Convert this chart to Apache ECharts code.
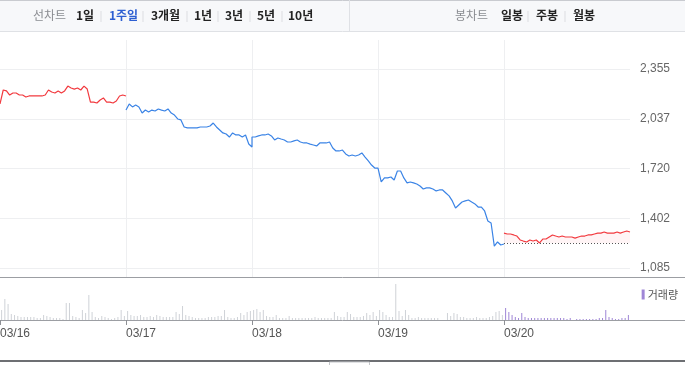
<!DOCTYPE html>
<html>
<head>
<meta charset="utf-8">
<script src="https://cdn.jsdelivr.net/npm/echarts@6/dist/echarts.min.js"></script>
<style>
  html, body { margin: 0; padding: 0; background: #fff; }
  #chart { width: 685px; height: 365px; }
</style>
</head>
<body>
<div id="chart"></div>
<script>
// 5 trading days, prices every 10 minutes (09:00 .. 15:30 -> 40 points per day)
const dates = ['03/16', '03/17', '03/18', '03/19', '03/20'];
const yTicks = [1085, 1402.5, 1720, 2037.5, 2355];
const prevClose = 1245;

const day1Price = [2132,2221,2215,2189,2202,2202,2189,2189,2176,2183, 2183,2183,2183,2183,2189,2221,2208,2202,2215,2202,
                   2215,2246,2234,2227,2234,2221,2246,2227,2144,2144, 2138,2157,2170,2144,2144,2138,2151,2183,2189,2183];
const day2Price = [2093,2132,2113,2125,2113,2074,2093,2081,2093,2087, 2100,2093,2087,2100,2074,2061,2036,2030,1985,1979,
                   1979,1979,1979,1985,1985,1985,1991,2010,1985,1966, 1947,1940,1921,1947,1934,1934,1921,1934,1876,1857];
const day3Price = [1921,1921,1928,1934,1934,1940,1928,1902,1915,1908, 1902,1889,1889,1896,1902,1889,1883,1883,1876,1870,
                   1864,1883,1883,1883,1889,1851,1832,1832,1838,1813, 1800,1806,1800,1806,1819,1793,1768,1742,1723,1723];
const day4Price = [1723,1634,1660,1660,1666,1647,1704,1704,1660,1628, 1634,1628,1621,1608,1589,1596,1596,1589,1577,1583,
                   1583,1564,1545,1513,1468,1487,1506,1513,1519,1506, 1494,1474,1474,1449,1385,1372,1225,1251,1232,1238];
const day5Price = [1308,1302,1302,1296,1289,1264,1257,1251,1264,1257, 1264,1245,1270,1270,1283,1296,1289,1283,1289,1283,
                   1283,1283,1276,1283,1289,1289,1296,1296,1302,1308, 1308,1315,1308,1308,1308,1315,1308,1315,1321,1315];

// volume per 10-minute bar (thousand shares)
const day1Vol = [10,21,16,6,5,4,3,3,3,3, 3,2,2,5,4,3,2,2,2,1, 17,17,4,3,2,10,7,25,8,3, 2,4,3,2,1,2,3,10,4];
const day2Vol = [9,5,4,4,5,3,3,4,3,5, 4,3,3,3,3,8,6,14,5,4, 3,2,2,2,2,3,3,3,4,4, 10,3,2,2,3,7,5,8,9];
const day3Vol = [10,11,8,10,4,3,3,5,2,2, 2,4,2,2,2,2,2,2,2,3, 2,2,2,2,2,8,4,3,3,8, 6,3,3,3,4,7,5,8,4];
const day4Vol = [10,8,5,3,3,36,9,4,10,5, 2,2,3,2,2,2,2,2,2,0, 0,7,4,7,6,3,3,2,2,2, 3,2,2,2,3,4,8,9,5];
const day5Vol = [12,8,5,3,2,7,3,2,2,2, 2,2,2,2,2,2,2,2,2,1, 2,0,1,1,1,1,1,1,1,2, 2,10,3,2,1,1,2,2,5];

const DAY = 390; // minutes in a session
const RED = '#f23a3f';
const BLUE = '#3b84e6';
const PURPLE = '#9f86d6';

function pricePoints(arr, day) {
    return arr.map((v, k) => [day * DAY + k * 10, v]);
}
function volPoints(arr, day) {
    return arr.map((v, k) => [day * DAY + 5 + k * 10, v]);
}

const bluePts = pricePoints(day2Price, 1).concat(pricePoints(day3Price, 2), pricePoints(day4Price, 3));
const volPts = [day1Vol, day2Vol, day3Vol, day4Vol, day5Vol]
    .map((a, d) => volPoints(a, d)).reduce((a, b) => a.concat(b), []);

const container = document.getElementById('chart');
var myChart = echarts.init(container, null, { renderer: 'canvas' });

const tabFont = '"Noto Sans CJK KR", sans-serif';
function tab(text, x, color, bold) {
    return { type: 'text', left: x, top: 9, silent: true,
        style: { text: text, fill: color, font: (bold ? 'bold ' : '') + '12px ' + tabFont } };
}
function sep(x) {
    return { type: 'line', silent: true, shape: { x1: x, y1: 11, x2: x, y2: 22 },
        style: { stroke: '#dcdde1', lineWidth: 1 } };
}
function hline(y, color, w) {
    return { type: 'line', silent: true, shape: { x1: 0, y1: y, x2: 685, y2: y },
        style: { stroke: color, lineWidth: w } };
}

var option = {
    animation: false,
    backgroundColor: '#fff',
    textStyle: { fontFamily: 'Liberation Sans, Arial, sans-serif' },
    graphic: [
        { type: 'rect', silent: true, shape: { x: 0, y: 0, width: 685, height: 31 },
          style: { fill: '#f7f8fa' } },
        hline(0.5, '#c9cbd0', 1),
        hline(31.5, '#dfe1e5', 1),
        { type: 'line', silent: true, shape: { x1: 349.5, y1: 0, x2: 349.5, y2: 31 },
          style: { stroke: '#dfe1e5', lineWidth: 1 } },
        tab('선차트', 33, '#8a8c91', false),
        tab('1일', 76, '#222', true), sep(101),
        tab('1주일', 109, '#2d5fd2', true), sep(143),
        tab('3개월', 151, '#222', true), sep(187),
        tab('1년', 194, '#222', true), sep(218),
        tab('3년', 225, '#222', true), sep(250),
        tab('5년', 257, '#222', true), sep(282),
        tab('10년', 288, '#222', true),
        tab('봉차트', 455, '#8a8c91', false),
        tab('일봉', 501, '#222', true), sep(528),
        tab('주봉', 536, '#222', true), sep(565),
        tab('월봉', 573, '#222', true),
        hline(277.5, '#9c9ea3', 1),
        hline(320.5, '#9c9ea3', 1),
        hline(361, '#6d6f73', 2),
        { type: 'rect', silent: true, shape: { x: 329.5, y: 362, width: 40, height: 6 },
          style: { fill: '#fff', stroke: '#c3c5c9', lineWidth: 1 } }
    ],
    legend: {
        right: 2, top: 284, itemWidth: 3, itemHeight: 10, itemGap: 4, icon: 'rect',
        data: [{ name: '거래량', itemStyle: { color: PURPLE } }],
        textStyle: { fontSize: 11, color: '#555', padding: [0, 0, 0, -2], fontFamily: tabFont }
    },
    grid: [
        { left: 0, right: 55, top: 40, height: 237, outerBoundsMode: 'none' },
        { left: 0, right: 55, top: 280, height: 40, outerBoundsMode: 'none' }
    ],
    xAxis: [
        {
            type: 'value', gridIndex: 0, min: 0, max: 5 * DAY, interval: DAY,
            axisLine: { show: false }, axisTick: { show: false }, axisLabel: { show: false },
            splitLine: { show: true, showMinLine: false, showMaxLine: false,
                lineStyle: { color: '#eeeff1', width: 1 } }
        },
        {
            type: 'value', gridIndex: 1, min: 0, max: 5 * DAY, interval: DAY,
            axisLine: { show: false },
            axisTick: { show: true, length: 5, lineStyle: { color: '#8e9095' } },
            splitLine: { show: false },
            axisLabel: {
                show: true, align: 'left', margin: 8, fontSize: 12, color: '#555',
                showMaxLabel: false,
                formatter: v => dates[Math.round(v / DAY)] || ''
            }
        }
    ],
    yAxis: [
        {
            type: 'value', gridIndex: 0, position: 'right',
            min: 1027.6, max: 2540.1,
            axisLine: { show: false },
            axisTick: { show: false, customValues: yTicks },
            splitLine: { show: true, lineStyle: { color: '#eeeff1', width: 1 } },
            axisLabel: {
                customValues: yTicks, margin: 10, fontSize: 12, color: '#666',
                formatter: v => Math.floor(v).toLocaleString('en-US')
            }
        },
        {
            type: 'value', gridIndex: 1, min: 0, max: 40, show: false,
            splitLine: { show: false }
        }
    ],
    series: [
        {
            type: 'line', xAxisIndex: 0, yAxisIndex: 0, data: pricePoints(day1Price, 0),
            showSymbol: false, lineStyle: { color: RED, width: 1.2 }, itemStyle: { color: RED }
        },
        {
            type: 'line', xAxisIndex: 0, yAxisIndex: 0, data: bluePts,
            showSymbol: false, lineStyle: { color: BLUE, width: 1.2 }, itemStyle: { color: BLUE }
        },
        {
            type: 'line', xAxisIndex: 0, yAxisIndex: 0, data: pricePoints(day5Price, 4),
            showSymbol: false, lineStyle: { color: RED, width: 1.2 }, itemStyle: { color: RED },
            areaStyle: { origin: prevClose, color: 'rgba(255, 60, 70, 0.08)' },
            markLine: {
                silent: true, symbol: 'none', label: { show: false },
                lineStyle: { color: '#555', type: [1, 2], width: 1 },
                data: [[{ coord: [4 * DAY, prevClose] }, { coord: [5 * DAY, prevClose] }]]
            }
        },
        {
            name: '거래량', type: 'bar', xAxisIndex: 1, yAxisIndex: 1, data: volPts,
            barWidth: 1,
            itemStyle: { color: p => (p.value[0] >= 4 * DAY ? PURPLE : '#cfd2d7') }
        }
    ]
};

if (option && typeof option === 'object') {
    myChart.setOption(option);
}

window.addEventListener('resize', myChart.resize);
</script>
</body>
</html>
